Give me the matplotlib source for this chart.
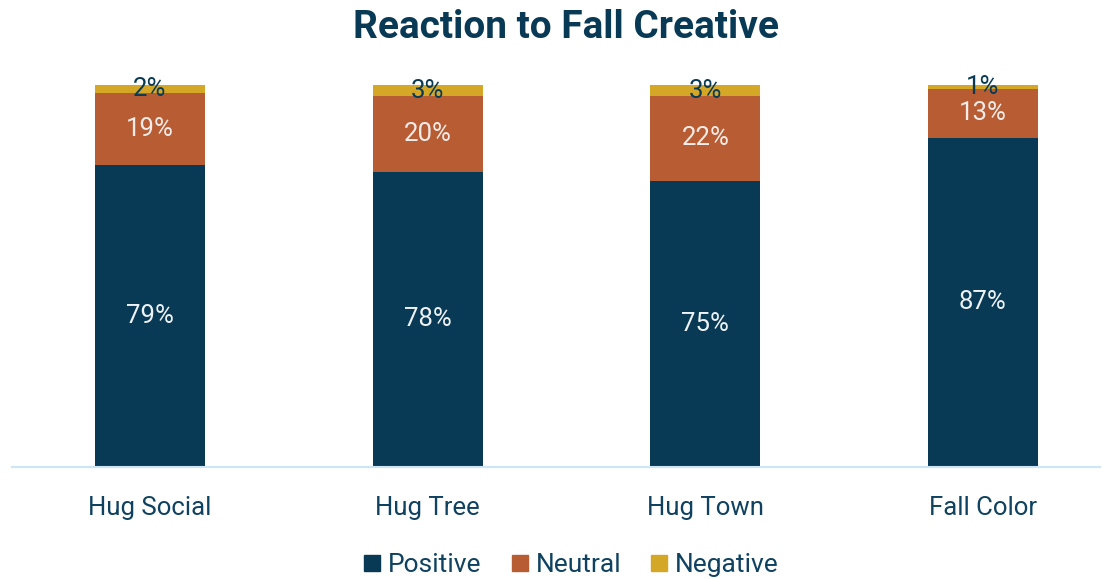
import matplotlib
matplotlib.use("Agg")
import matplotlib.pyplot as plt
from matplotlib.lines import Line2D
import numpy as np

categories = ["Hug Social", "Hug Tree", "Hug Town", "Fall Color"]
positive = [79, 78, 75, 87]
neutral = [19, 20, 22, 13]
negative = [2, 3, 3, 1]
series_names = ["Positive", "Neutral", "Negative"]

NAVY = "#083a56"
ORANGE = "#b85c34"
GOLD = "#d4a727"
colors = [NAVY, ORANGE, GOLD]
label_colors = ["#eef2f5", "#f4ece8", NAVY]

plt.rcParams["font.family"] = ["Roboto", "DejaVu Sans"]

W, H = 1103, 579
fig = plt.figure(figsize=(W / 100, H / 100), dpi=100)
left_px, right_px, bottom_px, top_px = 12, 1100, 467, 85
ax = fig.add_axes([left_px / W, (H - bottom_px) / H, (right_px - left_px) / W, (bottom_px - top_px) / H])

data = np.array([positive, neutral, negative], dtype=float)
totals = data.sum(axis=0)
shares = data / totals

x = np.arange(len(categories))
unit = (983 - 150) / 3
ax.set_xlim(-(150 - left_px) / unit, 3 + (right_px - 983) / unit)
ax.set_ylim(0, 1)
width = 110 / unit

bottom = np.zeros(len(categories))
for i, name in enumerate(series_names):
    ax.bar(x, shares[i], width, bottom=bottom, color=colors[i], label=name, zorder=2)
    for xi, b, h, v in zip(x, bottom, shares[i], data[i]):
        ax.text(xi, b + h / 2, f"{int(v)}%", ha="center", va="center",
                color=label_colors[i], fontsize=18.5, clip_on=False, zorder=3)
    bottom += shares[i]

for s in ["top", "right", "left"]:
    ax.spines[s].set_visible(False)
ax.spines["bottom"].set_color("#cce6f7")
ax.spines["bottom"].set_linewidth(1.5)
ax.set_yticks([])
ax.set_xticks(x)
ax.set_xticklabels(categories, fontsize=18.5, color="#0f4260")
ax.tick_params(axis="x", length=0, pad=21)

fig.text(566 / W, 1 - 28 / H, "Reaction to Fall Creative", ha="center", va="center",
         fontsize=28, fontweight="bold", color=NAVY)

handles = [Line2D([], [], marker="s", linestyle="", markersize=11.5, color=c) for c in colors]
fig.legend(handles, series_names, loc="center", bbox_to_anchor=(571 / W, 1 - 565 / H),
           ncol=3, frameon=False, fontsize=19, handletextpad=0.25, columnspacing=1.1,
           labelcolor="#0f4260", handlelength=0.7, borderpad=0.2)

fig.savefig("out.png", dpi=100)
